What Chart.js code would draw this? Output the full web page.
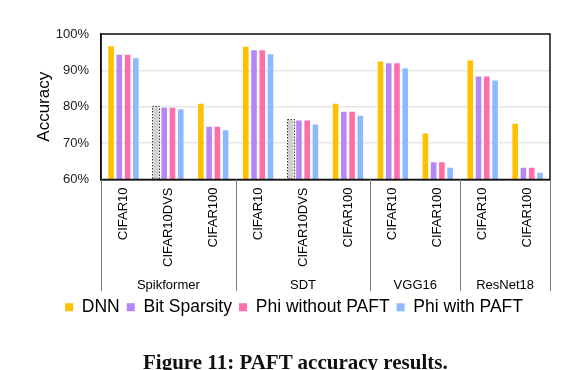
<!DOCTYPE html>
<html><head><meta charset="utf-8">
<script src="https://cdn.jsdelivr.net/npm/chart.js@4.4.1/dist/chart.umd.min.js"></script>
<style>
html,body{margin:0;padding:0;background:#fff;}
#wrap{position:relative;width:562px;height:370px;overflow:hidden;background:#fff;}
#c{position:absolute;left:0;top:0;}
#cap{position:absolute;left:143px;top:352px;white-space:nowrap;font:bold 21px/20px "Liberation Serif","Times New Roman",serif;color:#111;}
</style></head>
<body><div id="wrap"><canvas id="c" width="562" height="370"></canvas><div id="cap">Figure 11: PAFT accuracy results.</div></div>
<script>
// ---- data ----
const categories = ['CIFAR10','CIFAR10DVS','CIFAR100','CIFAR10','CIFAR10DVS','CIFAR100','CIFAR10','CIFAR100','CIFAR10','CIFAR100'];
const groupNames = ['Spikformer','SDT','VGG16','ResNet18'];
const groupSizes = [3,3,2,2];
const seriesNames = ['DNN','Bit Sparsity','Phi without PAFT','Phi with PAFT'];
const dnn        = [96.9, 80.1, 81.1, 96.8, 76.6, 81.1, 92.7, 72.9, 93.0, 75.6];
const bitSparsity= [94.6, 80.0, 74.8, 95.8, 76.5, 78.9, 92.2, 65.0, 88.6, 63.5];
const phiWithout = [94.6, 80.0, 74.8, 95.8, 76.5, 78.9, 92.2, 65.0, 88.6, 63.5];
const phiWith    = [93.6, 79.6, 73.8, 94.7, 75.4, 77.8, 90.8, 63.5, 87.5, 62.1];
const dnnPlaceholder = [1, 4]; // DNN bars shown as grey dashed placeholders
const yTicks = [60, 70, 80, 90, 100];

const FONT = '"Liberation Sans", Arial, sans-serif';
const colors = ['#FFC000', '#B587F3', '#FF6EA9', '#8DB9FF'];
const grey = '#D0D0D0';

const deco = {
  id: 'deco',
  afterDatasetsDraw(chart) {
    const ctx = chart.ctx;
    const meta = chart.getDatasetMeta(0);
    const bottom = chart.scales.y.getPixelForValue(yTicks[0]);
    dnnPlaceholder.forEach(i => {
      const b = meta.data[i];
      const x = b.x, y = b.y, w = b.width;
      ctx.save();
      ctx.setLineDash([1.5, 1.5]);
      ctx.strokeStyle = '#333';
      ctx.lineWidth = 1;
      ctx.strokeRect(Math.round(x - w/2) + 0.5, Math.round(y) + 0.5, Math.round(w) - 1, bottom - Math.round(y) - 1);
      ctx.restore();
    });
  },
  afterDraw(chart) {
    const ctx = chart.ctx;
    const a = chart.chartArea;
    const xs = chart.scales.x;
    ctx.save();
    ctx.strokeStyle = '#111';
    ctx.lineWidth = 1.5;
    ctx.strokeRect(a.left, a.top, a.right - a.left, a.bottom - a.top);
    const half = (xs.getPixelForValue(1) - xs.getPixelForValue(0)) / 2;
    let idx = 0;
    const bounds = [xs.getPixelForValue(0) - half];
    groupSizes.forEach(s => { idx += s; bounds.push(xs.getPixelForValue(idx - 1) + half); });
    ctx.strokeStyle = '#7a7a7a';
    ctx.lineWidth = 1;
    bounds.forEach(bx => {
      const x = Math.round(bx) + 0.5;
      ctx.beginPath(); ctx.moveTo(x, a.bottom); ctx.lineTo(x, 291); ctx.stroke();
    });
    ctx.fillStyle = '#000';
    ctx.font = '13px ' + FONT;
    ctx.textAlign = 'center';
    ctx.textBaseline = 'middle';
    groupNames.forEach((g, i) => {
      ctx.fillText(g, (bounds[i] + bounds[i+1]) / 2, 285);
    });
    ctx.restore();
  }
};

const mk = (label, data, color) => ({
  label, data,
  backgroundColor: color,
  borderColor: 'rgba(255,255,255,0.35)',
  borderWidth: 1,
  categoryPercentage: 0.735,
  barPercentage: 0.92
});

const datasets = [
  mk(seriesNames[0], dnn, ctx => (ctx.dataIndex !== undefined && dnnPlaceholder.includes(ctx.dataIndex)) ? grey : colors[0]),
  mk(seriesNames[1], bitSparsity, colors[1]),
  mk(seriesNames[2], phiWithout, colors[2]),
  mk(seriesNames[3], phiWith, colors[3])
];

new Chart(document.getElementById('c'), {
  type: 'bar',
  data: { labels: categories, datasets },
  plugins: [deco],
  options: {
    responsive: false,
    animation: false,
    devicePixelRatio: 1,
    layout: { padding: { top: 34, left: 38, right: 12, bottom: 44 } },
    plugins: {
      tooltip: { enabled: false },
      legend: {
        position: 'bottom',
        labels: {
          boxWidth: 8, boxHeight: 8, padding: 7,
          color: '#000',
          font: { family: FONT, size: 17.5 },
          generateLabels: (chart) => Chart.defaults.plugins.legend.labels.generateLabels(chart)
            .map((l, i) => ({ ...l, fillStyle: colors[i], lineWidth: 0, strokeStyle: 'rgba(0,0,0,0)' }))
        }
      }
    },
    scales: {
      x: {
        grid: { display: false, drawTicks: false },
        border: { display: true, color: '#111', width: 1.5 },
        ticks: {
          autoSkip: false, minRotation: 90, maxRotation: 90, padding: 8,
          color: '#000', font: { family: FONT, size: 13 }
        },
        afterFit: s => { s.height = 112; }
      },
      y: {
        min: 60, max: 100,
        afterBuildTicks: s => { s.ticks = yTicks.map(v => ({ value: v })); },
        grid: { color: '#e6e6e6', lineWidth: 1.5, drawTicks: false },
        border: { display: true, color: '#111', width: 1.5 },
        ticks: {
          padding: 12, color: '#222',
          font: { family: FONT, size: 13 },
          callback: v => v + '%'
        },
        title: {
          display: true, text: 'Accuracy', color: '#000',
          font: { family: FONT, size: 17, lineHeight: 0.8 },
          padding: { top: 0, bottom: 0 }
        },
        afterFit: s => { s.width = 63; }
      }
    }
  }
});
</script>
</body></html>
